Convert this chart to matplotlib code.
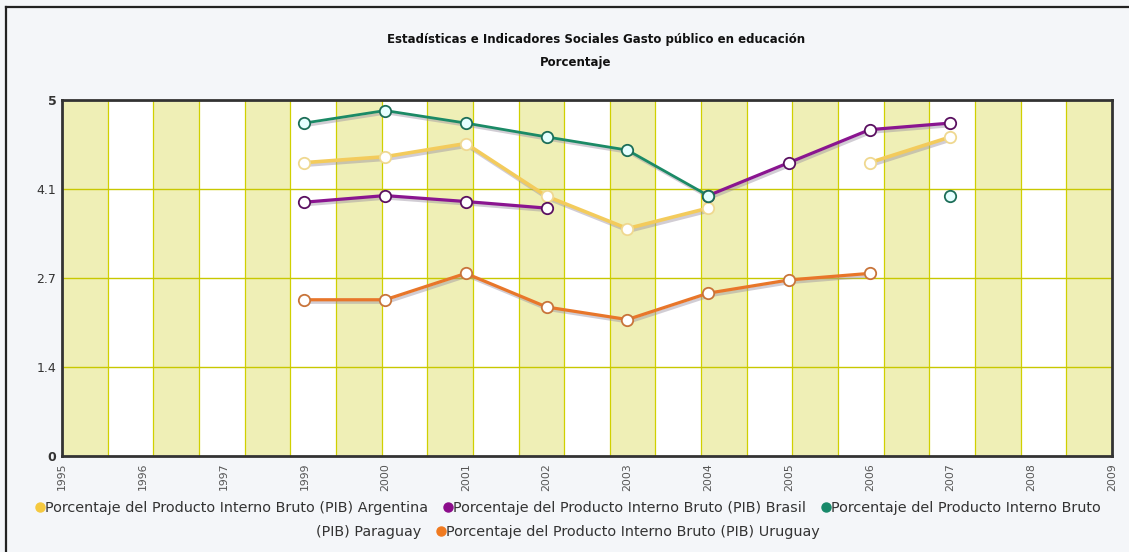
import numpy as np
import matplotlib
matplotlib.use('Agg')
import matplotlib.pyplot as plt
import matplotlib.patheffects as pe
from matplotlib.lines import Line2D
from matplotlib import font_manager

# ---------------- data ----------------
years = ['1995', '1996', '1997', '1999', '2000', '2001', '2002', '2003',
         '2004', '2005', '2006', '2007', '2008', '2009']
nan = np.nan
argentina = [nan, nan, nan, 4.45, 4.54, 4.74, 3.94, 3.45, 3.76, nan, 4.45, 4.84, nan, nan]
brasil    = [nan, nan, nan, 3.85, 3.95, 3.86, 3.76, nan, 3.95, 4.45, 4.95, 5.05, nan, nan]
paraguay  = [nan, nan, nan, 5.05, 5.24, 5.05, 4.84, 4.64, 3.95, nan, nan, 3.94, nan, nan]
uruguay   = [nan, nan, nan, 2.37, 2.37, 2.77, 2.26, 2.07, 2.47, 2.67, 2.77, nan, nan, nan]

y_ticks = [0, 1.35, 2.7, 4.05, 5.4]
y_tick_labels = ['0', '1.4', '2.7', '4.1', '5']

series_names = ['Porcentaje del Producto Interno Bruto (PIB) Argentina',
                'Porcentaje del Producto Interno Bruto (PIB) Brasil',
                'Porcentaje del Producto Interno Bruto (PIB) Paraguay',
                'Porcentaje del Producto Interno Bruto (PIB) Uruguay']
title = 'Estadísticas e Indicadores Sociales Gasto público en educación'
subtitle = 'Porcentaje'

# ---------------- figure ----------------
W, H = 1129, 552
fig = plt.figure(figsize=(W / 100, H / 100), dpi=100)
fig.patch.set_facecolor('#F4F6F9')

def fx(px):
    return px / W

def fy(py):
    return 1 - py / H

# outer frame (top + left visible)
fig.add_artist(Line2D([fx(6), 1.0], [fy(7), fy(7)], color='#222222', lw=1.6))
fig.add_artist(Line2D([fx(6), fx(6)], [fy(7), 0.0], color='#222222', lw=1.6))

ax = fig.add_axes([fx(62), fy(456), (1112 - 62) / W, (456 - 100) / H])
ax.set_xlim(0, len(years) - 1)
ax.set_ylim(y_ticks[0], y_ticks[-1])
ax.set_facecolor('white')

n_bands = 23
bw = (len(years) - 1) / n_bands
for k in range(n_bands):
    if k % 2 == 0:
        ax.axvspan(k * bw, (k + 1) * bw, color='#EFEFB6', lw=0, zorder=0)
for k in range(1, n_bands):
    ax.axvline(k * bw, color='#D0D000', lw=0.9, zorder=1)
for t in y_ticks[1:-1]:
    ax.axhline(t, color='#C8C800', lw=1.0, zorder=1)

for s in ax.spines.values():
    s.set_color('#333333')
    s.set_linewidth(2.0)
    s.set_zorder(10)

x = np.arange(len(years))
specs = [
    (argentina, '#F3CB5C', '#EFD890', '#FFFFFF', 2.6),
    (uruguay,   '#E8762A', '#C8743A', '#FFFFFF', 2.3),
    (brasil,    '#8A1590', '#5A1060', '#FFFFFF', 2.3),
    (paraguay,  '#1B8A66', '#1C6E58', '#E6FFFF', 2.0),
]
z = 3
for vals, col, mec, mfc, lw in specs:
    ax.plot(x, vals, color=col, lw=lw, zorder=z, solid_capstyle='round',
            path_effects=[pe.SimpleLineShadow(offset=(1.2, -1.8), shadow_color='#9a90a0', alpha=0.45),
                          pe.Normal()])
    ax.plot(x, vals, ls='none', marker='o', ms=8.2, mfc=mfc, mec=mec, mew=1.3, zorder=z + 1)
    z += 2

ax.set_xticks(x)
ax.set_xticklabels(years, rotation=90, fontsize=7.8, color='#555555')
ax.tick_params(axis='x', length=0, pad=5)
ax.set_yticks(y_ticks)
ax.set_yticklabels(y_tick_labels, fontsize=9, color='#333333')
ax.tick_params(axis='y', length=0, pad=4)
for lbl in (ax.get_yticklabels()[0], ax.get_yticklabels()[-1]):
    lbl.set_fontweight('bold')

# ---------------- titles ----------------
try:
    font_manager.findfont(font_manager.FontProperties(family='Liberation Sans Narrow'),
                          fallback_to_default=False)
    tfam = ['Liberation Sans Narrow', 'DejaVu Sans']
except Exception:
    tfam = ['DejaVu Sans']

renderer = fig.canvas.get_renderer()

def fit_text(xc, yc, s, width_px, base=9, **kw):
    t = fig.text(fx(xc), fy(yc), s, fontsize=base, ha='center', va='center', **kw)
    w = t.get_window_extent(renderer).width
    t.set_fontsize(base * width_px / w)
    return t

t1 = fit_text(596, 40, title, 414, family=tfam, fontweight='bold', color='#111111')
t2 = fig.text(fx(576), fy(62), subtitle, fontsize=t1.get_fontsize(), ha='center', va='center',
              family=tfam, fontweight='bold', color='#111111')

# ---------------- legend (flowing, wrapped like the original) ----------------
colors_leg = ['#F5C93F', '#8B0C8B', '#17896A', '#F07A20']
line1 = [(colors_leg[0], series_names[0]), None,
         (colors_leg[1], series_names[1]), None,
         (colors_leg[2], 'Porcentaje del Producto Interno Bruto')]
line2 = [(None, '(PIB) Paraguay'), None, (colors_leg[3], series_names[3])]

dot_w = 9
gap_item = 16

def measure(s, fs):
    t = fig.text(0, 0, s, fontsize=fs)
    w = t.get_window_extent(renderer).width
    t.remove()
    return w

def line_width(items, fs):
    tot = 0
    for it in items:
        if it is None:
            tot += gap_item
        else:
            c, s = it
            tot += (dot_w if c else 0) + measure(s, fs)
    return tot

fs = 9.0
target = 1105 - 35
fs = fs * (target - 2 * gap_item - 3 * dot_w) / (line_width(line1, fs) - 2 * gap_item - 3 * dot_w)

def draw_line(items, yc, xc=568):
    wtot = line_width(items, fs)
    xpos = xc - wtot / 2
    for it in items:
        if it is None:
            xpos += gap_item
            continue
        c, s = it
        if c:
            fig.add_artist(Line2D([fx(xpos + 4)], [fy(yc - 1)], marker='o', ms=6.5,
                                  color=c, mec=c, ls='none'))
            xpos += dot_w
        fig.text(fx(xpos), fy(yc), s, fontsize=fs, ha='left', va='center', color='#333333')
        xpos += measure(s, fs)

draw_line(line1, 508)
draw_line(line2, 532)

fig.savefig('out.png', dpi=100, facecolor=fig.get_facecolor())
